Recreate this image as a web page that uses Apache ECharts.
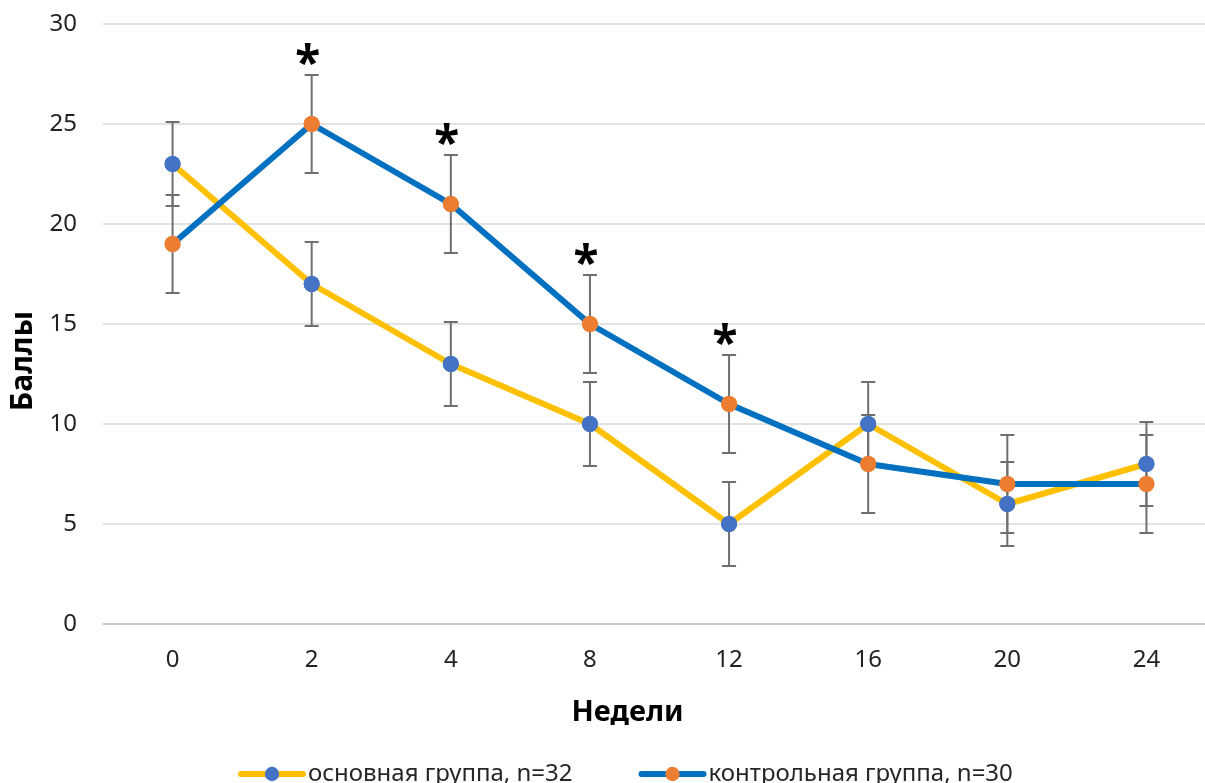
<!DOCTYPE html>
<html>
<head>
<meta charset="utf-8">
<script src="https://cdn.jsdelivr.net/npm/echarts@6/dist/echarts.min.js"></script>
<style>
html, body { margin: 0; padding: 0; background: #fff; }
#chart { width: 1205px; height: 783px; }
</style>
</head>
<body>
<div id="chart"></div>
<script>
// данные
const weeks = ['0', '2', '4', '8', '12', '16', '20', '24'];
const mainGroup = [23, 17, 13, 10, 5, 10, 6, 8];
const mainErr = [2.1, 2.1, 2.1, 2.1, 2.1, 2.1, 2.1, 2.1];
const controlGroup = [19, 25, 21, 15, 11, 8, 7, 7];
const controlErr = [2.45, 2.45, 2.45, 2.45, 2.45, 2.45, 2.45, 2.45];
const significant = [false, true, true, true, true, false, false, false];

const FONT = 'Noto Sans';

function errData(vals, errs) {
    return vals.map((v, i) => [i, v - errs[i], v + errs[i]]);
}

function renderErr(params, api) {
    const lo = api.coord([api.value(0), api.value(1)]);
    const hi = api.coord([api.value(0), api.value(2)]);
    const w = 7;
    const style = { stroke: '#6f6f6f', lineWidth: 2 };
    return {
        type: 'group',
        children: [
            { type: 'line', shape: { x1: lo[0], y1: lo[1], x2: hi[0], y2: hi[1] }, style: style },
            { type: 'line', shape: { x1: lo[0] - w, y1: lo[1], x2: lo[0] + w, y2: lo[1] }, style: style },
            { type: 'line', shape: { x1: hi[0] - w, y1: hi[1], x2: hi[0] + w, y2: hi[1] }, style: style }
        ]
    };
}

const starData = controlGroup
    .map((v, i) => [i, v + controlErr[i]])
    .filter((d, i) => significant[i]);

const myChart = echarts.init(document.getElementById('chart'));

const option = {
    animation: false,
    textStyle: { fontFamily: FONT },
    grid: { left: 103, right: -11, top: 24, bottom: 159, outerBoundsMode: 'none', containLabel: false },
    legend: {
        bottom: -8,
        left: 233,
        itemWidth: 62,
        itemHeight: 18,
        itemGap: 66,
        lineStyle: { width: 6, cap: 'round' },
        data: ['основная группа, n=32', 'контрольная группа, n=30'],
        textStyle: { fontFamily: FONT, fontSize: 24, color: '#262626' }
    },
    xAxis: {
        type: 'category',
        data: weeks,
        boundaryGap: true,
        name: 'Недели',
        nameLocation: 'middle',
        nameGap: 74,
        nameTextStyle: { fontFamily: FONT, fontSize: 29, fontWeight: 'bold', color: '#000', padding: [0, 64, 0, 0] },
        axisLine: { lineStyle: { color: '#bfbfbf', width: 1.5 } },
        axisTick: { show: false },
        axisLabel: { fontSize: 24, color: '#222', margin: 24 }
    },
    yAxis: {
        type: 'value',
        min: 0,
        max: 30,
        interval: 5,
        name: 'Баллы',
        nameLocation: 'middle',
        nameRotate: 90,
        nameGap: 61,
        nameTextStyle: { fontFamily: FONT, fontSize: 30, fontWeight: 'bold', color: '#000', padding: [0, 74, 0, 0] },
        axisLine: { show: false },
        axisTick: { show: false },
        axisLabel: { fontSize: 24, color: '#222', margin: 26 },
        splitLine: { lineStyle: { color: '#d9d9d9', width: 1.5 } }
    },
    series: [
        {
            name: 'основная группа, n=32',
            type: 'line',
            data: mainGroup,
            z: 2,
            symbol: 'circle',
            symbolSize: 16,
            lineStyle: { color: '#FFC000', width: 6 },
            itemStyle: { color: '#4472C4' }
        },
        {
            name: 'контрольная группа, n=30',
            type: 'line',
            data: controlGroup,
            z: 2,
            symbol: 'circle',
            symbolSize: 16,
            lineStyle: { color: '#0070C0', width: 6 },
            itemStyle: { color: '#ED7D31' }
        },
        {
            type: 'custom',
            data: errData(mainGroup, mainErr),
            encode: { x: 0, y: [1, 2] },
            renderItem: renderErr,
            z: 3,
            silent: true
        },
        {
            type: 'custom',
            data: errData(controlGroup, controlErr),
            encode: { x: 0, y: [1, 2] },
            renderItem: renderErr,
            z: 3,
            silent: true
        },
        {
            type: 'scatter',
            data: mainGroup.map((v, i) => [i, v]),
            symbol: 'circle',
            symbolSize: 16,
            itemStyle: { color: '#4472C4', opacity: 1 },
            z: 4,
            silent: true
        },
        {
            type: 'scatter',
            data: controlGroup.map((v, i) => [i, v]),
            symbol: 'circle',
            symbolSize: 16,
            itemStyle: { color: '#ED7D31', opacity: 1 },
            z: 4,
            silent: true
        },
        {
            type: 'custom',
            data: starData,
            encode: { x: 0, y: 1 },
            z: 5,
            silent: true,
            renderItem: function (params, api) {
                const p = api.coord([api.value(0), api.value(1)]);
                return {
                    type: 'text',
                    x: p[0] - 4,
                    y: p[1] + 14,
                    style: {
                        text: '*',
                        fontSize: 46,
                        fontWeight: 'bold',
                        fontFamily: FONT,
                        fill: '#000',
                        align: 'center',
                        verticalAlign: 'bottom'
                    }
                };
            }
        }
    ]
};

myChart.setOption(option);
window.addEventListener('resize', () => {
    myChart.resize();
});
</script>
</body>
</html>
